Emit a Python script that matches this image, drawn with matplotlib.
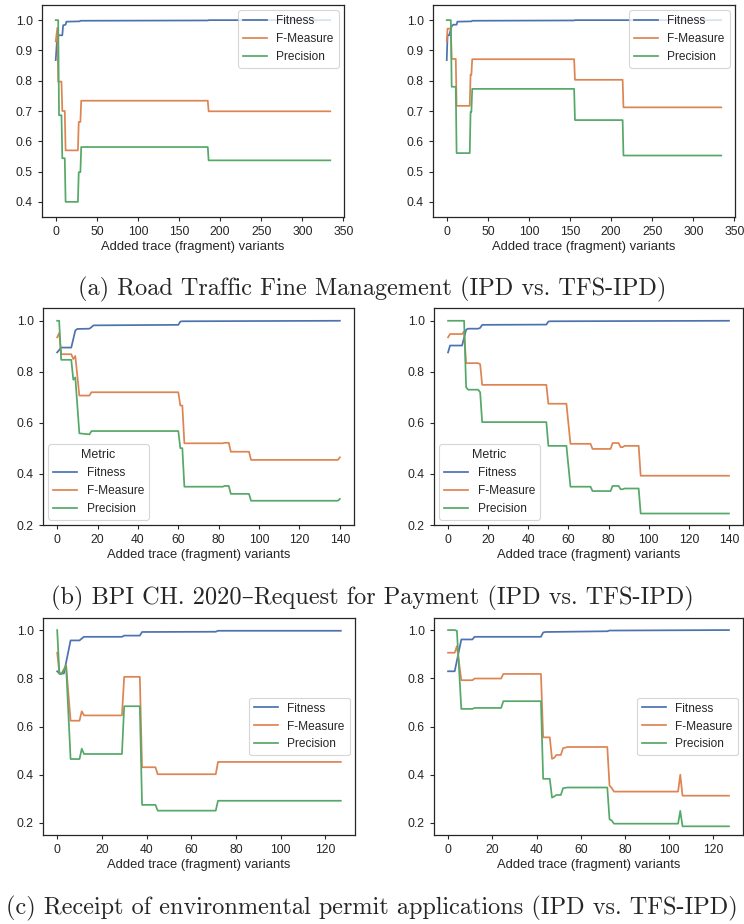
import matplotlib
matplotlib.use("Agg")
import matplotlib.pyplot as plt
from matplotlib.ticker import MultipleLocator
import numpy as np

# ---------------- data (breakpoints) ----------------
metrics = ["Fitness", "F-Measure", "Precision"]

# (a) Road Traffic Fine Management - IPD
a1_fit_x = [0, 2, 3, 8, 9, 12, 13, 29, 30, 185, 186, 334]
a1_fit_y = [0.868, 0.955, 0.950, 0.950, 0.983, 0.985, 0.995, 0.996, 0.998, 0.999, 1.0, 1.0]
a1_fm_x = [0, 2, 3, 7, 8, 11, 12, 27, 28, 30, 31, 185, 186, 334]
a1_fm_y = [0.93, 0.975, 0.797, 0.797, 0.70, 0.70, 0.57, 0.57, 0.664, 0.664, 0.734, 0.734, 0.699, 0.699]
a1_pr_x = [0, 3, 4, 7, 8, 11, 12, 27, 28, 30, 31, 185, 186, 334]
a1_pr_y = [1.0, 1.0, 0.686, 0.686, 0.544, 0.544, 0.40, 0.40, 0.498, 0.498, 0.581, 0.581, 0.537, 0.537]

# (a) Road Traffic Fine Management - TFS-IPD
a2_fit_x = [0, 1, 3, 6, 8, 12, 13, 30, 31, 155, 156, 334]
a2_fit_y = [0.868, 0.95, 0.95, 0.98, 0.985, 0.985, 0.995, 0.996, 0.998, 0.999, 1.0, 1.0]
a2_fm_x = [0, 1, 5, 6, 11, 12, 28, 29, 30, 31, 155, 156, 214, 215, 334]
a2_fm_y = [0.93, 0.972, 0.972, 0.872, 0.872, 0.717, 0.717, 0.82, 0.82, 0.871, 0.871, 0.803, 0.803, 0.712, 0.712]
a2_pr_x = [0, 5, 6, 11, 12, 28, 29, 30, 31, 155, 156, 214, 215, 334]
a2_pr_y = [1.0, 1.0, 0.78, 0.78, 0.561, 0.561, 0.697, 0.697, 0.773, 0.773, 0.670, 0.670, 0.553, 0.553]

# (b) BPI CH. 2020 - IPD
b1_fit_x = [0, 2, 7, 9, 10, 16, 17, 18, 60, 61, 62, 140]
b1_fit_y = [0.876, 0.895, 0.895, 0.962, 0.968, 0.969, 0.975, 0.982, 0.984, 0.997, 0.998, 1.0]
b1_fm_x = [0, 1, 2, 7, 8, 9, 11, 16, 17, 60, 61, 62, 63, 82, 83, 85, 86, 95, 96, 139, 140]
b1_fm_y = [0.935, 0.952, 0.869, 0.869, 0.85, 0.862, 0.707, 0.707, 0.72, 0.72, 0.668, 0.668, 0.52,
           0.52, 0.522, 0.522, 0.487, 0.487, 0.455, 0.455, 0.465]
b1_pr_x = [0, 1, 2, 7, 8, 9, 11, 16, 17, 60, 61, 62, 63, 82, 83, 85, 86, 95, 96, 139, 140]
b1_pr_y = [1.0, 1.0, 0.847, 0.847, 0.769, 0.778, 0.559, 0.555, 0.568, 0.568, 0.501, 0.501, 0.35,
           0.35, 0.353, 0.353, 0.322, 0.322, 0.295, 0.295, 0.302]

# (b) BPI CH. 2020 - TFS-IPD
b2_fit_x = [0, 1, 7, 9, 10, 15, 16, 17, 49, 50, 51, 140]
b2_fit_y = [0.876, 0.903, 0.903, 0.965, 0.969, 0.969, 0.972, 0.984, 0.985, 0.997, 0.998, 1.0]
b2_fm_x = [0, 1, 7, 8, 9, 15, 16, 17, 49, 50, 59, 61, 71, 72, 81, 82, 83, 85, 86, 87, 88, 95, 96, 140]
b2_fm_y = [0.935, 0.948, 0.948, 0.958, 0.834, 0.834, 0.83, 0.749, 0.749, 0.675, 0.675, 0.518, 0.518,
           0.498, 0.498, 0.521, 0.521, 0.521, 0.505, 0.505, 0.51, 0.51, 0.393, 0.393]
b2_pr_x = [0, 8, 9, 10, 15, 16, 17, 49, 50, 59, 61, 71, 72, 81, 82, 85, 86, 87, 88, 95, 96, 140]
b2_pr_y = [1.0, 1.0, 0.74, 0.73, 0.73, 0.72, 0.603, 0.603, 0.51, 0.51, 0.35, 0.35, 0.333, 0.333,
           0.353, 0.353, 0.34, 0.34, 0.343, 0.343, 0.245, 0.245]

# (c) Receipt of environmental permit applications - IPD
c1_fit_x = [0, 1, 3, 6, 10, 11, 12, 29, 30, 37, 38, 71, 72, 127]
c1_fit_y = [0.829, 0.82, 0.82, 0.957, 0.957, 0.965, 0.972, 0.972, 0.977, 0.977, 0.992, 0.993, 0.997, 0.997]
c1_fm_x = [0, 1, 2, 4, 6, 10, 11, 12, 29, 30, 37, 38, 44, 45, 71, 72, 127]
c1_fm_y = [0.906, 0.82, 0.82, 0.854, 0.624, 0.624, 0.663, 0.646, 0.646, 0.806, 0.806, 0.431, 0.431,
           0.402, 0.402, 0.453, 0.453]
c1_pr_x = [0, 1, 2, 4, 6, 10, 11, 12, 29, 30, 37, 38, 44, 45, 71, 72, 127]
c1_pr_y = [1.0, 0.818, 0.818, 0.85, 0.465, 0.465, 0.508, 0.486, 0.486, 0.684, 0.684, 0.275, 0.275,
           0.251, 0.251, 0.292, 0.292]

# (c) Receipt of environmental permit applications - TFS-IPD
c2_fit_x = [0, 3, 6, 11, 12, 42, 43, 44, 72, 73, 127]
c2_fit_y = [0.829, 0.829, 0.961, 0.961, 0.972, 0.972, 0.99, 0.992, 0.995, 0.998, 1.0]
c2_fm_x = [0, 3, 4, 6, 11, 12, 24, 25, 42, 43, 46, 47, 48, 49, 51, 52, 54, 72, 73, 74, 75, 104, 105, 106, 127]
c2_fm_y = [0.906, 0.906, 0.933, 0.792, 0.792, 0.799, 0.799, 0.818, 0.818, 0.555, 0.555, 0.466, 0.47,
           0.482, 0.482, 0.51, 0.515, 0.515, 0.355, 0.345, 0.330, 0.330, 0.40, 0.313, 0.313]
c2_pr_x = [0, 3, 4, 6, 11, 12, 24, 25, 42, 43, 46, 47, 48, 49, 51, 52, 54, 72, 73, 74, 75, 104, 105, 106, 127]
c2_pr_y = [1.0, 1.0, 0.997, 0.673, 0.673, 0.677, 0.677, 0.705, 0.705, 0.383, 0.383, 0.305, 0.31,
           0.316, 0.316, 0.344, 0.347, 0.347, 0.215, 0.21, 0.197, 0.197, 0.25, 0.186, 0.186]

captions = [
    "(a) Road Traffic Fine Management (IPD vs. TFS-IPD)",
    "(b) BPI CH. 2020\u2013Request for Payment (IPD vs. TFS-IPD)",
    "(c) Receipt of environmental permit applications (IPD vs. TFS-IPD)",
]
xlabel = "Added trace (fragment) variants"

# ---------------- style ----------------
colors = ["#4C72B0", "#DD8452", "#55A868"]
dark = "#262626"
plt.rcParams.update({
    "font.family": ["Liberation Sans", "DejaVu Sans"],
    "font.size": 8.5,
    "axes.edgecolor": dark,
    "axes.linewidth": 0.9,
    "xtick.color": dark,
    "ytick.color": dark,
    "xtick.direction": "out",
    "ytick.direction": "out",
    "xtick.major.size": 3.0,
    "ytick.major.size": 3.0,
    "xtick.major.width": 0.8,
    "ytick.major.width": 0.8,
    "xtick.labelsize": 8.7,
    "ytick.labelsize": 8.7,
    "axes.labelcolor": dark,
    "text.color": dark,
})

W, H = 744, 924
fig = plt.figure(figsize=(W / 100, H / 100), dpi=100)


def add_ax(l, t, r, b):
    return fig.add_axes([l / W, 1 - b / H, (r - l) / W, (b - t) / H])


panels = [
    # (rect, series, ylim, y tick step, legend loc, legend title)
    ((42, 5, 344, 217), [(a1_fit_x, a1_fit_y), (a1_fm_x, a1_fm_y), (a1_pr_x, a1_pr_y)],
     (0.35, 1.05), 0.1, "upper right", None),
    ((433, 5, 735, 217), [(a2_fit_x, a2_fit_y), (a2_fm_x, a2_fm_y), (a2_pr_x, a2_pr_y)],
     (0.35, 1.05), 0.1, "upper right", None),
    ((43, 308, 354, 525), [(b1_fit_x, b1_fit_y), (b1_fm_x, b1_fm_y), (b1_pr_x, b1_pr_y)],
     (0.2, 1.05), 0.2, "lower left", "Metric"),
    ((434, 308, 743, 525), [(b2_fit_x, b2_fit_y), (b2_fm_x, b2_fm_y), (b2_pr_x, b2_pr_y)],
     (0.2, 1.05), 0.2, "lower left", "Metric"),
    ((43, 618, 355, 835), [(c1_fit_x, c1_fit_y), (c1_fm_x, c1_fm_y), (c1_pr_x, c1_pr_y)],
     (0.15, 1.05), 0.2, "center right", None),
    ((434, 618, 743, 835), [(c2_fit_x, c2_fit_y), (c2_fm_x, c2_fm_y), (c2_pr_x, c2_pr_y)],
     (0.15, 1.05), 0.2, "center right", None),
]

for rect, series, ylim, ystep, loc, title in panels:
    ax = add_ax(*rect)
    for (xs, ys), name, c in zip(series, metrics, colors):
        ax.plot(xs, ys, color=c, lw=1.25, label=name)
    ax.set_ylim(*ylim)
    ax.yaxis.set_major_locator(MultipleLocator(ystep))
    ax.set_xlabel(xlabel, labelpad=2, fontsize=9.4)
    leg = ax.legend(loc=loc, title=title, fontsize=8.6, title_fontsize=9.0,
                    frameon=True, framealpha=0.8, edgecolor="#cccccc", fancybox=True,
                    borderaxespad=0.45)
    leg.get_frame().set_linewidth(0.8)

cap_y = [289, 598, 908]
for cap, y in zip(captions, cap_y):
    fig.text(0.5, 1 - y / H, cap, ha="center", va="center", fontsize=17.5,
             family=["cmr10", "DejaVu Serif"])

fig.savefig("out.png", dpi=100)
